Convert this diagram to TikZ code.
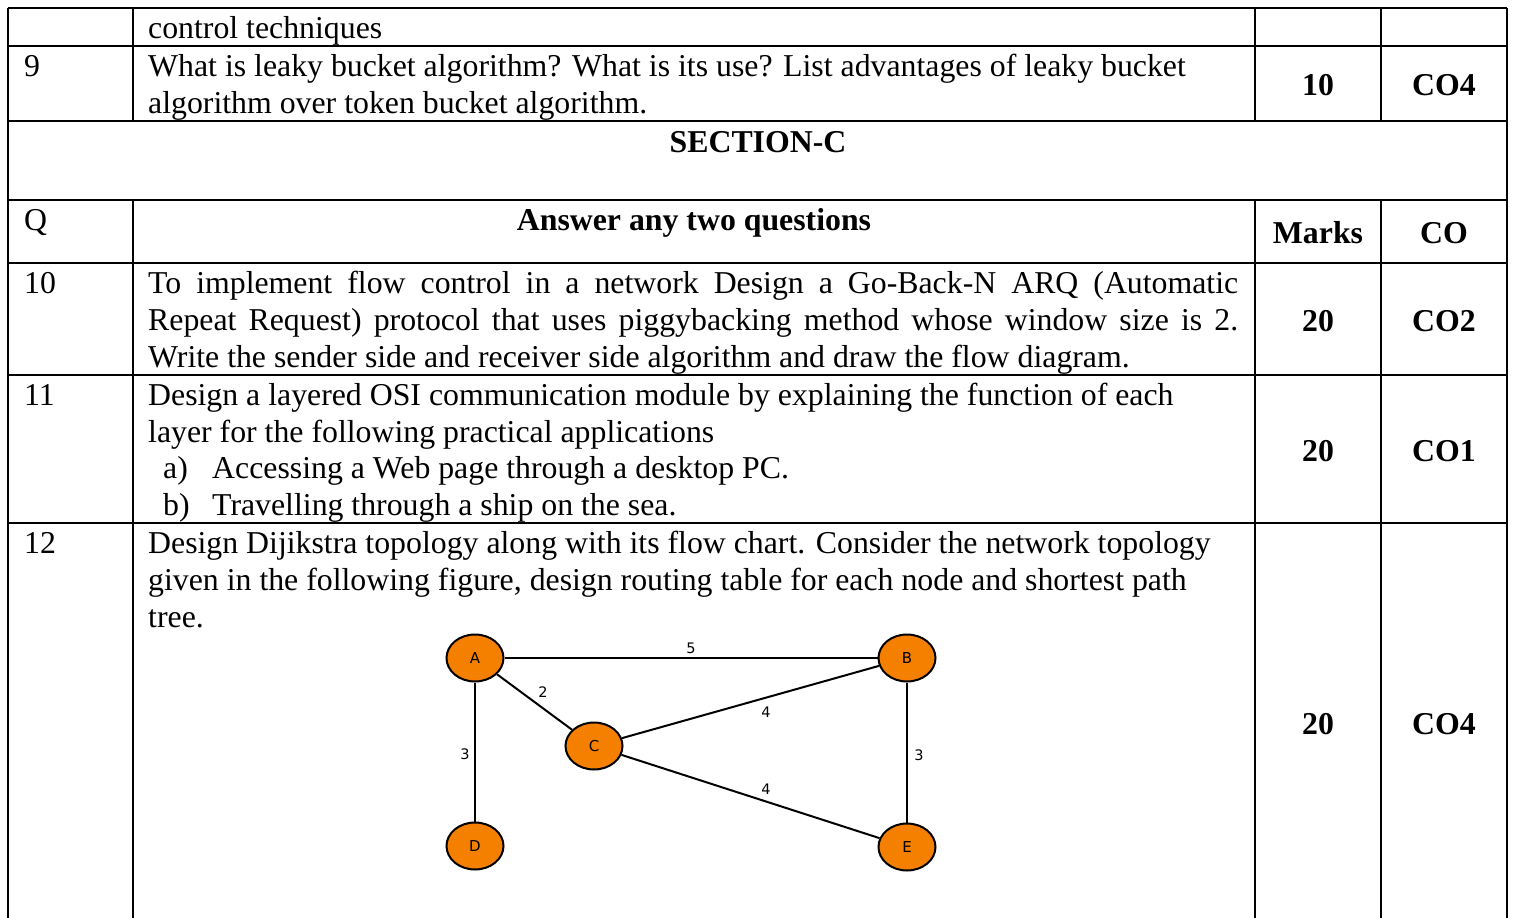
\documentclass[tikz,border=0pt]{standalone}
\usepackage{fontspec}
\setmainfont{Liberation Serif}
\newfontfamily\graphfont{DejaVu Sans}
\usetikzlibrary{shapes.geometric}

\tikzset{
  rule/.style={line width=1.5pt, black},
  body/.style={inner sep=0pt, anchor=base west, font=\fontsize{31.8}{36.8}\selectfont},
  head/.style={inner sep=0pt, anchor=base, font=\fontsize{31.8}{36.8}\selectfont\bfseries},
  vertex/.style={ellipse, draw=black, line width=2pt, fill={rgb,255:red,245;green,128;blue,0},
                 minimum width=57pt, minimum height=47pt, inner sep=0pt,
                 font=\fontsize{15}{17}\graphfont},
  link/.style={line width=2pt, black},
  weight/.style={inner sep=0pt, font=\fontsize{14.5}{16}\graphfont}
}

\begin{document}
\begin{tikzpicture}[x=1pt,y=-1pt]
\useasboundingbox (0,0) rectangle (1513,918);

% table rules
\foreach \yy in {8,46,121,200,263,375,523}
  \draw[rule] (8,\yy) -- (1507,\yy);
\draw[rule] (8,8) -- (8,918);
\draw[rule] (1507,8) -- (1507,918);
\foreach \xx in {133,1255,1381} {
  \draw[rule] (\xx,8) -- (\xx,121);
  \draw[rule] (\xx,200) -- (\xx,918);
}

% row 8 (continued)
\node[body] (t8) at (148,38.5) {control techniques};

% row 9
\node[body] (q9) at (24,76) {9};
\node[body] (t9a) at (148,76) {What is leaky bucket algorithm? What is its use? List advantages of leaky bucket};
\node[body] (t9b) at (148,113) {algorithm over token bucket algorithm.};
\node[head] (m9) at (1318,95.5) {10};
\node[head] (c9) at (1444,95.5) {CO4};

% section heading
\node[head] (sec) at (758,152) {SECTION-C};

% column heads
\node[body] (qh) at (24,230) {Q};
\node[head] (ah) at (694,230) {Answer any two questions};
\node[head] (mh) at (1318,243) {Marks};
\node[head] (ch) at (1444,243) {CO};

% row 10
\node[body] (q10) at (24,293) {10};
\node[body] (t10a) at (148,293) {\makebox[1090pt][s]{To implement flow control in a network Design a Go-Back-N ARQ (Automatic}};
\node[body] (t10b) at (148,330) {\makebox[1090pt][s]{Repeat Request) protocol that uses piggybacking method whose window size is 2.}};
\node[body] (t10c) at (148,367) {Write the sender side and receiver side algorithm and draw the flow diagram.};
\node[head] (m10) at (1318,331) {20};
\node[head] (c10) at (1444,331) {CO2};

% row 11
\node[body] (q11) at (24,405) {11};
\node[body] (t11a) at (148,405) {Design a layered OSI communication module by explaining the function of each};
\node[body] (t11b) at (148,442) {layer for the following practical applications};
\node[body] (t11c) at (163,478) {a)};
\node[body] (t11d) at (212,478) {Accessing a Web page through a desktop PC.};
\node[body] (t11e) at (163,515) {b)};
\node[body] (t11f) at (212,515) {Travelling through a ship on the sea.};
\node[head] (m11) at (1318,461) {20};
\node[head] (c11) at (1444,461) {CO1};

% row 12
\node[body] (q12) at (24,553) {12};
\node[body] (t12a) at (148,553) {Design Dijikstra topology along with its flow chart. Consider the network topology};
\node[body] (t12b) at (148,590) {given in the following figure, design routing table for each node and shortest path};
\node[body] (t12c) at (148,627) {tree.};
\node[head] (m12) at (1318,734) {20};
\node[head] (c12) at (1444,734) {CO4};

% network figure
\node[vertex] (A) at (475,658) {A};
\node[vertex] (B) at (907,658) {B};
\node[vertex] (C) at (594,746) {C};
\node[vertex] (D) at (475,846) {D};
\node[vertex] (E) at (907,847) {E};

\draw[link] (A) -- (B);
\draw[link] (A) -- (C);
\draw[link] (A) -- (D);
\draw[link] (C) -- (B);
\draw[link] (C) -- (E);
\draw[link] (B) -- (E);

\node[weight] (wAB) at (691,648) {5};
\node[weight] (wAC) at (543,692) {2};
\node[weight] (wCB) at (766,712) {4};
\node[weight] (wAD) at (465,754) {3};
\node[weight] (wBE) at (919,755) {3};
\node[weight] (wCE) at (766,789) {4};
\end{tikzpicture}
\end{document}
